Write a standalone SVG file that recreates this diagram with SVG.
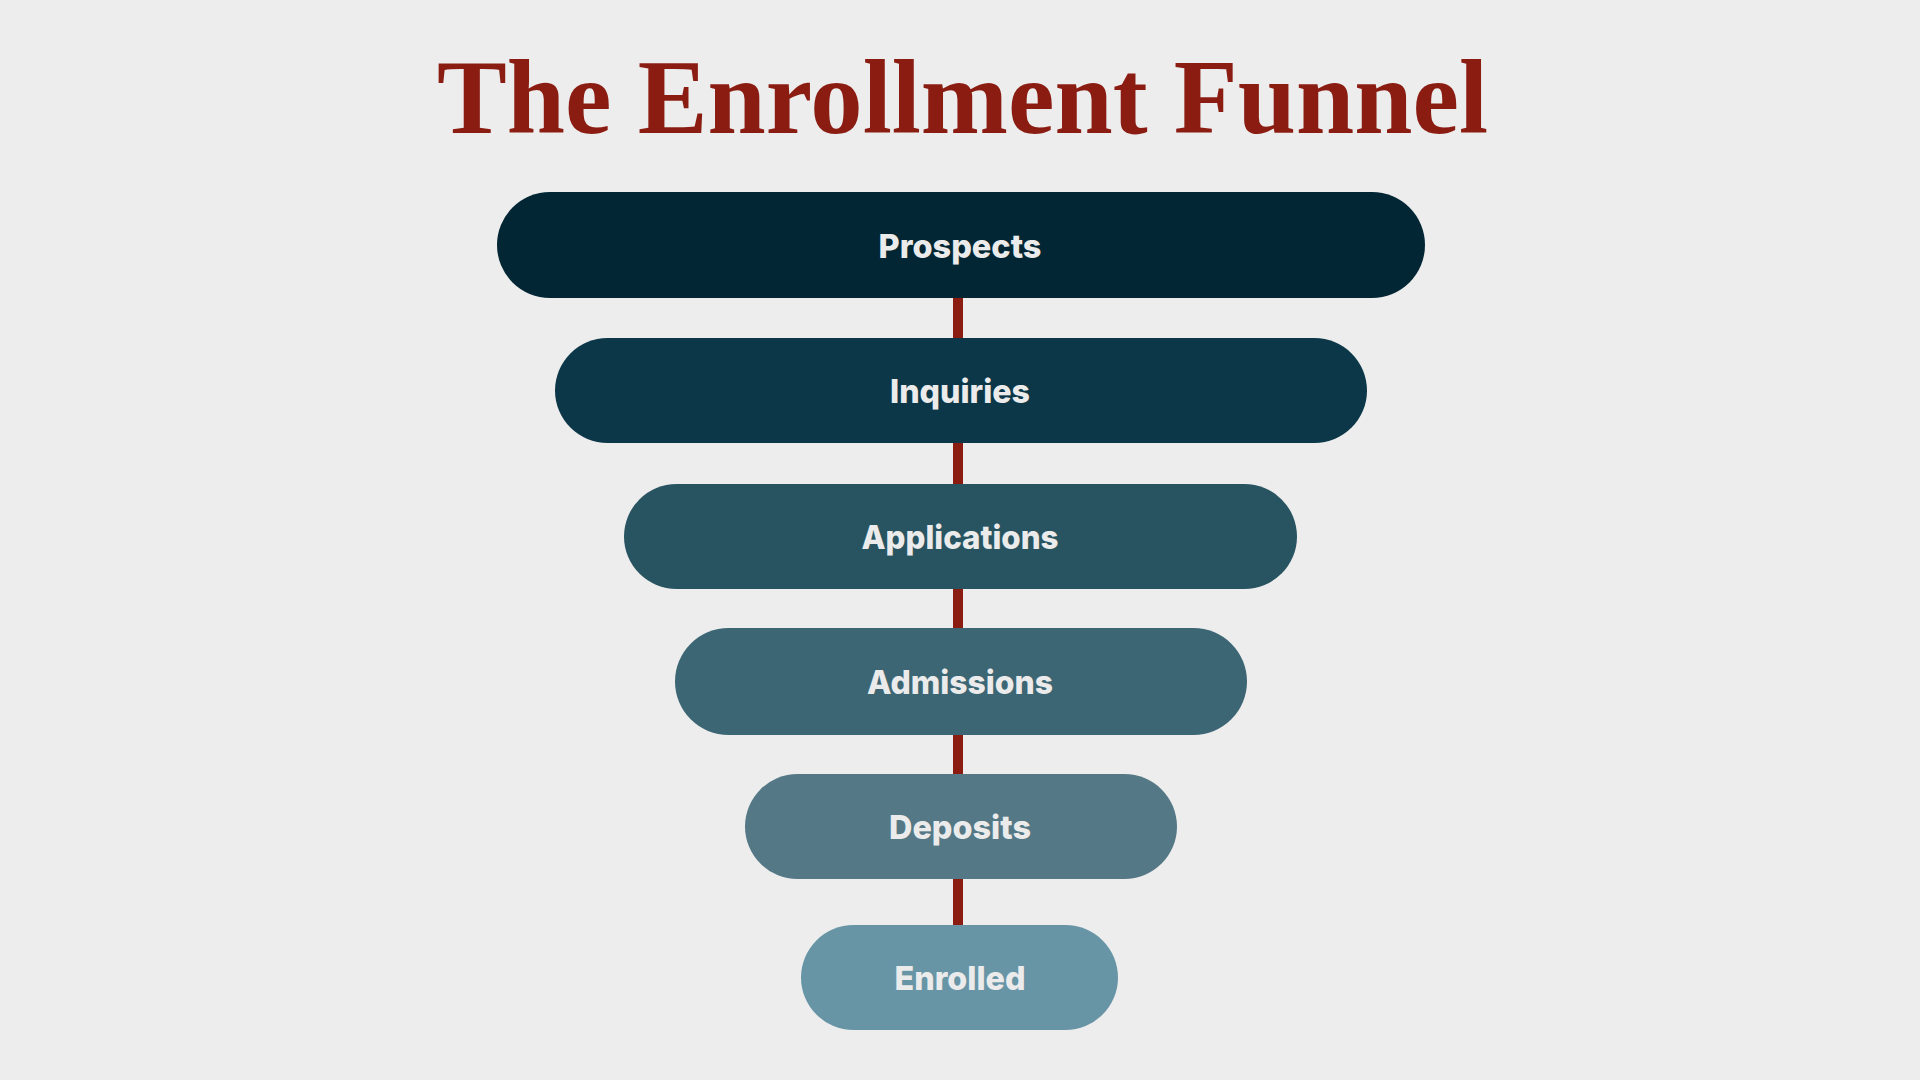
<svg xmlns="http://www.w3.org/2000/svg" width="1920" height="1080" viewBox="0 0 1920 1080">
<style>
.title{font-family:"Liberation Serif","DejaVu Serif",serif;font-weight:bold;font-size:106px;fill:#8A1C12;}
.lbl{font-family:Inter,Roboto,"Liberation Sans",sans-serif;font-weight:800;font-size:33px;fill:#EBEBEB;text-anchor:middle;}
.conn{stroke:#8A1C12;stroke-width:10;fill:none;}
</style>
<rect width="1920" height="1080" fill="#EDEDED"/>
<text class="title" x="437" y="133" textLength="1051" lengthAdjust="spacingAndGlyphs">The Enrollment Funnel</text>
<g id="connectors">
<line class="conn" x1="958" y1="296" x2="958" y2="340"/>
<line class="conn" x1="958" y1="441" x2="958" y2="486"/>
<line class="conn" x1="958" y1="587" x2="958" y2="630"/>
<line class="conn" x1="958" y1="733" x2="958" y2="776"/>
<line class="conn" x1="958" y1="877" x2="958" y2="927"/>
</g>
<g id="prospects">
<rect x="497" y="192" width="928" height="106" rx="53" fill="#022633"/>
<text class="lbl" x="960" y="258" textLength="163" lengthAdjust="spacingAndGlyphs">Prospects</text>
</g>
<g id="inquiries">
<rect x="555" y="338" width="812" height="105" rx="52.5" fill="#0B3748"/>
<text class="lbl" x="960" y="403" textLength="140" lengthAdjust="spacingAndGlyphs">Inquiries</text>
</g>
<g id="applications">
<rect x="624" y="484" width="673" height="105" rx="52.5" fill="#285461"/>
<text class="lbl" x="960" y="549" textLength="197" lengthAdjust="spacingAndGlyphs">Applications</text>
</g>
<g id="admissions">
<rect x="675" y="628" width="572" height="107" rx="53.5" fill="#3D6674"/>
<text class="lbl" x="960" y="694" textLength="186" lengthAdjust="spacingAndGlyphs">Admissions</text>
</g>
<g id="deposits">
<rect x="745" y="774" width="432" height="105" rx="52.5" fill="#547885"/>
<text class="lbl" x="960" y="839" textLength="142" lengthAdjust="spacingAndGlyphs">Deposits</text>
</g>
<g id="enrolled">
<rect x="801" y="925" width="317" height="105" rx="52.5" fill="#6795A6"/>
<text class="lbl" x="960" y="990" textLength="131" lengthAdjust="spacingAndGlyphs">Enrolled</text>
</g>
</svg>
